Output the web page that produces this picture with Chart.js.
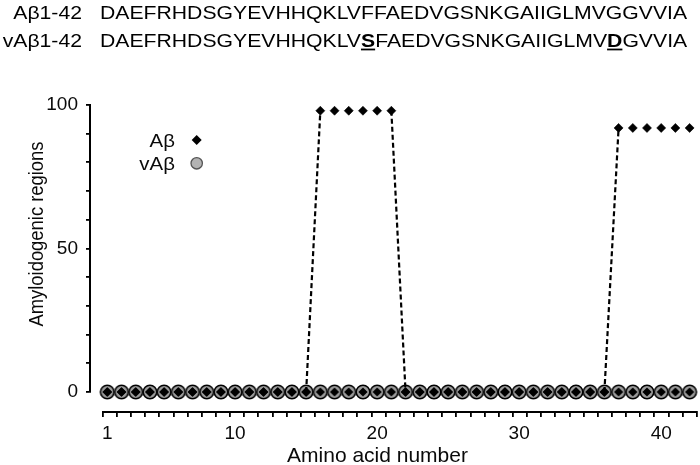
<!DOCTYPE html>
<html>
<head>
<meta charset="utf-8">
<script src="https://cdn.jsdelivr.net/npm/chart.js@4/dist/chart.umd.min.js"></script>
<style>
html,body{margin:0;padding:0;background:#fff;}
#wrap{position:relative;width:700px;height:465px;overflow:hidden;background:#fff;}
#c{position:absolute;left:0;top:0;}
.row{position:absolute;left:0;width:700px;height:24px;font-family:"Liberation Sans",Arial,sans-serif;font-size:21.2px;line-height:21px;color:#000;white-space:pre;transform:scaleY(0.88);transform-origin:0 0;}
.lab{position:absolute;right:618px;top:0;}
.seq{position:absolute;left:100px;top:0;}
.seq b{font-weight:bold;text-decoration:underline;}
</style>
</head>
<body>
<div id="wrap">
  <canvas id="c" width="700" height="465"></canvas>
  <div class="row" id="row1" style="top:2.6px"></div>
  <div class="row" id="row2" style="top:31px"></div>
</div>
<script>
// ---- data ----
const aminoAcids = [1,2,3,4,5,6,7,8,9,10,11,12,13,14,15,16,17,18,19,20,21,22,23,24,25,26,27,28,29,30,31,32,33,34,35,36,37,38,39,40,41,42];
const abValues  = [0,0,0,0,0,0,0,0,0,0,0,0,0,0,0,98,98,98,98,98,98,0,0,0,0,0,0,0,0,0,0,0,0,0,0,0,92,92,92,92,92,92];
const vabValues = [0,0,0,0,0,0,0,0,0,0,0,0,0,0,0,0,0,0,0,0,0,0,0,0,0,0,0,0,0,0,0,0,0,0,0,0,0,0,0,0,0,0];
const seriesNames = ['Aβ', 'vAβ'];
const xTickLabels = [1, 10, 20, 30, 40];
const yTickValues = [0, 10, 20, 30, 40, 50, 60, 70, 80, 90, 100];
const yTickLabels = [0, 50, 100];
const xTitle = 'Amino acid number';
const yTitle = 'Amyloidogenic regions';
const seqLabels = ['Aβ1-42', 'vAβ1-42'];
const seqWild    = 'DAEFRHDSGYEVHHQKLVFFAEDVGSNKGAIIGLMVGGVVIA';
const seqVariant = 'DAEFRHDSGYEVHHQKLVSFAEDVGSNKGAIIGLMVDGVVIA';

const FONT = '"Liberation Sans", Arial, sans-serif';
const INK = '#0a0a0a';

// ---- sequence header ----
function seqHTML(seq, ref) {
  let h = '';
  for (let i = 0; i < seq.length; i++) {
    h += (seq[i] !== ref[i]) ? '<b>' + seq[i] + '</b>' : seq[i];
  }
  return h;
}
document.getElementById('row1').innerHTML = '<span class="lab">' + seqLabels[0] + '</span><span class="seq">' + seqHTML(seqWild, seqWild) + '</span>';
document.getElementById('row2').innerHTML = '<span class="lab">' + seqLabels[1] + '</span><span class="seq">' + seqHTML(seqVariant, seqWild) + '</span>';

// ---- marker for vAβ (grey circle with dark diamond) ----
function makeVabMarker() {
  const c = document.createElement('canvas');
  c.width = 18; c.height = 18;
  const g = c.getContext('2d');
  g.beginPath(); g.arc(9, 9, 6.8, 0, Math.PI * 2);
  g.fillStyle = '#9c9c9c'; g.fill();
  g.lineWidth = 1.6; g.strokeStyle = '#000'; g.stroke();
  g.beginPath(); g.moveTo(9 - 4.6, 9); g.lineTo(9, 9 - 4.6); g.lineTo(9 + 4.6, 9); g.lineTo(9, 9 + 4.6); g.closePath();
  g.fillStyle = '#000'; g.fill();
  return c;
}
const vabMarker = makeVabMarker();

// ---- titles and legend ----
const textPlugin = {
  id: 'texts',
  afterDraw(chart) {
    const c = chart.ctx;
    c.save();
    c.fillStyle = INK;
    c.translate(43, 234); c.rotate(-Math.PI / 2); c.scale(1, 1.14);
    c.font = '18.4px ' + FONT;
    c.textAlign = 'center'; c.textBaseline = 'alphabetic';
    c.fillText(yTitle, 0, 0);
    c.restore();

    c.save();
    c.fillStyle = INK;
    c.font = '21px ' + FONT;
    c.textAlign = 'center'; c.textBaseline = 'alphabetic';
    c.fillText(xTitle, 377.5, 461.5);
    c.restore();

    // legend
    c.save();
    c.fillStyle = INK;
    c.font = '18.6px ' + FONT;
    c.textAlign = 'right'; c.textBaseline = 'alphabetic';
    c.save(); c.translate(175, 146.7); c.scale(1.1, 1); c.fillText(seriesNames[0], 0, 0); c.restore();
    c.save(); c.translate(175, 170); c.scale(1.1, 1); c.fillText(seriesNames[1], 0, 0); c.restore();
    c.beginPath(); c.moveTo(196.7 - 5, 140); c.lineTo(196.7, 135); c.lineTo(196.7 + 5, 140); c.lineTo(196.7, 145); c.closePath();
    c.fillStyle = '#000'; c.fill();
    c.beginPath(); c.arc(196.7, 163.3, 5.7, 0, Math.PI * 2);
    c.fillStyle = '#b3b3b3'; c.fill(); c.lineWidth = 1.3; c.strokeStyle = '#555'; c.stroke();
    c.restore();
  }
};

new Chart(document.getElementById('c').getContext('2d'), {
  type: 'line',
  data: {
    datasets: [
      {
        label: seriesNames[0],
        data: aminoAcids.map((a, i) => ({ x: a, y: abValues[i] })),
        xAxisID: 'x', yAxisID: 'y', order: 0,
        borderColor: '#000', borderWidth: 2.2, borderDash: [5, 3], fill: false, tension: 0,
        segment: { borderColor: s => (s.p0.parsed.y === s.p1.parsed.y ? 'rgba(0,0,0,0)' : '#000') },
        pointStyle: 'rectRot', pointRadius: 4.5, pointBackgroundColor: '#000', pointBorderColor: '#000', pointBorderWidth: 0.6,
        clip: false
      },
      {
        label: seriesNames[1],
        data: aminoAcids.map((a, i) => ({ x: a, y: vabValues[i] })),
        xAxisID: 'x', yAxisID: 'y', order: 1,
        showLine: false, pointStyle: vabMarker, pointRadius: 7,
        clip: false
      }
    ]
  },
  options: {
    responsive: false, animation: false, events: [], devicePixelRatio: 1,
    layout: { autoPadding: false, padding: { left: 0, right: 3.3, top: 105, bottom: 0 } },
    plugins: { legend: { display: false }, tooltip: { enabled: false }, title: { display: false } },
    scales: {
      x: {
        type: 'linear', position: 'bottom', weight: 2, min: 0.676, max: 42.5,
        grid: { display: false, drawTicks: false }, border: { display: false },
        afterBuildTicks: s => { s.ticks = xTickLabels.map(v => ({ value: v })); },
        ticks: { autoSkip: false, maxRotation: 0, font: { family: FONT, size: 19 }, color: INK, padding: 4, callback: v => String(v) },
        afterFit: s => { s.height = 47; }
      },
      x2: {
        type: 'linear', axis: 'x', position: 'bottom', weight: 1, min: 0, max: 42,
        grid: { display: true, drawOnChartArea: false, drawTicks: true, tickLength: 5, color: '#000', lineWidth: 1.8 },
        border: { display: true, color: '#000', width: 2 },
        ticks: { display: false, autoSkip: false },
        afterBuildTicks: s => { const t = []; for (let k = 0; k <= 42; k++) t.push({ value: k }); s.ticks = t; },
        afterFit: s => { s.height = 6; }
      },
      xs: {
        type: 'linear', axis: 'x', position: 'bottom', weight: 0,
        grid: { display: false }, border: { display: false }, ticks: { display: false },
        afterFit: s => { s.height = 20; }
      },
      y: {
        type: 'linear', position: 'left', weight: 1, min: 0, max: 100,
        afterBuildTicks: s => { s.ticks = yTickValues.map(v => ({ value: v })); },
        ticks: { autoSkip: false, padding: 8, font: { family: FONT, size: 19 }, color: INK, callback: v => (yTickLabels.includes(v) ? String(v) : '') },
        grid: { display: true, drawOnChartArea: false, drawTicks: true, tickLength: 4, color: '#000', lineWidth: 1.8 },
        border: { display: true, color: '#000', width: 2 },
        afterFit: s => { s.width = 90; }
      },
      ys: {
        type: 'linear', axis: 'y', position: 'left', weight: 0,
        grid: { display: false }, border: { display: false }, ticks: { display: false },
        afterFit: s => { s.width = 12.7; }
      }
    }
  },
  plugins: [textPlugin]
});
</script>
</body>
</html>
